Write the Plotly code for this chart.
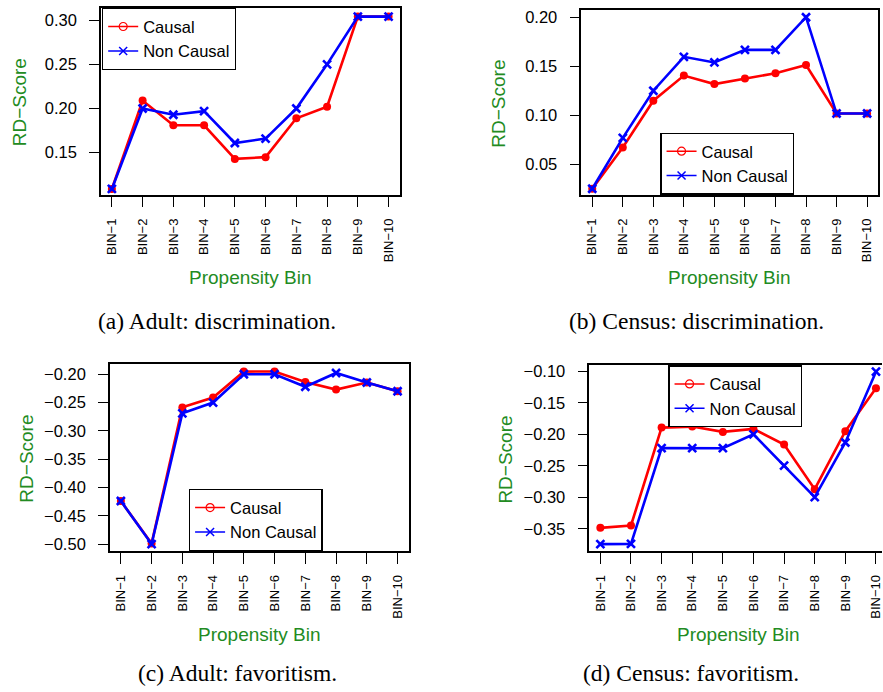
import plotly.graph_objects as go

W, H = 883, 692

bins = ["BIN\u22121", "BIN\u22122", "BIN\u22123", "BIN\u22124", "BIN\u22125",
        "BIN\u22126", "BIN\u22127", "BIN\u22128", "BIN\u22129", "BIN\u221210"]
bin_pos = [1, 2, 3, 4, 5, 6, 7, 8, 9, 10]

adult_disc_causal = [0.109, 0.209, 0.181, 0.181, 0.143, 0.145, 0.189, 0.202, 0.304, 0.304]
adult_disc_noncausal = [0.109, 0.200, 0.193, 0.197, 0.161, 0.166, 0.200, 0.250, 0.304, 0.304]
census_disc_causal = [0.0255, 0.0675, 0.115, 0.1406, 0.132, 0.1376, 0.143, 0.1513, 0.102, 0.102]
census_disc_noncausal = [0.0255, 0.0772, 0.1252, 0.1597, 0.154, 0.1668, 0.1668, 0.200, 0.102, 0.102]
adult_fav_causal = [-0.424, -0.499, -0.2585, -0.241, -0.1953, -0.195, -0.2135, -0.227, -0.2146, -0.230]
adult_fav_noncausal = [-0.424, -0.500, -0.269, -0.250, -0.200, -0.200, -0.222, -0.1977, -0.2146, -0.230]
census_fav_causal = [-0.3484, -0.3447, -0.1893, -0.1877, -0.1961, -0.1914, -0.2161, -0.287, -0.195, -0.1268]
census_fav_noncausal = [-0.3742, -0.374, -0.2218, -0.222, -0.222, -0.200, -0.2497, -0.2996, -0.2129, -0.1005]

ticks_a = [0.15, 0.20, 0.25, 0.30]
ticks_b = [0.05, 0.10, 0.15, 0.20]
ticks_c = [-0.50, -0.45, -0.40, -0.35, -0.30, -0.25, -0.20]
ticks_d = [-0.35, -0.30, -0.25, -0.20, -0.15, -0.10]

captions = ["(a) Adult: discrimination.", "(b) Census: discrimination.",
            "(c) Adult: favoritism.", "(d) Census: favoritism."]
series_names = ["Causal", "Non Causal"]

RED = "#FF0000"
BLUE = "#0000FF"
GREEN = "#228B22"
SANS = "Liberation Sans, Arial, sans-serif"
SERIF = "Liberation Serif, Times New Roman, serif"

def px(x):
    return x / W

def py(y):
    return 1 - y / H

# panel boxes in pixels: (left, top, right, bottom)
panels = [
    dict(box=(101, 5, 400, 193), xr=[0.643, 10.357], yr=[0.1026, 0.3138], ticks=ticks_a,
         c=adult_disc_causal, n=adult_disc_noncausal, ytitle_x=19,
         leg=(102, 5, "left", "top"), cap=(217, 320), mirror_y=True),
    dict(box=(582, 7, 879, 193), xr=[0.643, 10.357], yr=[0.0195, 0.2074], ticks=ticks_b,
         c=census_disc_causal, n=census_disc_noncausal, ytitle_x=499,
         leg=(661, 193, "left", "bottom"), cap=(697, 320), mirror_y=True),
    dict(box=(110, 364, 409, 552), xr=[0.643, 10.357], yr=[-0.5123, -0.1825], ticks=ticks_c,
         c=adult_fav_causal, n=adult_fav_noncausal, ytitle_x=27,
         leg=(189, 552, "left", "bottom"), cap=(238, 675), mirror_y=True),
    dict(box=(590, 365, 883, 552), xr=[0.64, 10.197], yr=[-0.3852, -0.0905], ticks=ticks_d,
         c=census_fav_causal, n=census_fav_noncausal, ytitle_x=506,
         leg=(669, 365, "left", "top"), cap=(692, 675), mirror_y=False),
]

fig = go.Figure()
annotations = []
layout = {}

for i, p in enumerate(panels):
    k = "" if i == 0 else str(i + 1)
    xa, ya = "x" + k, "y" + k
    legname = "legend" + k
    l, t, r, b = p["box"]
    fig.add_trace(go.Scatter(x=bin_pos, y=p["c"], mode="lines+markers", xaxis=xa, yaxis=ya,
                             line=dict(color=RED, width=2.6),
                             marker=dict(symbol="circle", size=8, color=RED),
                             showlegend=False, name=series_names[0], cliponaxis=False))
    fig.add_trace(go.Scatter(x=bin_pos, y=p["n"], mode="lines+markers", xaxis=xa, yaxis=ya,
                             line=dict(color=BLUE, width=2.6),
                             marker=dict(symbol="x-thin", size=8, color=BLUE,
                                         line=dict(color=BLUE, width=2.6)),
                             showlegend=False, name=series_names[1], cliponaxis=False))
    fig.add_trace(go.Scatter(x=[None], y=[None], mode="lines+markers", xaxis=xa, yaxis=ya,
                             line=dict(color=RED, width=1.5),
                             marker=dict(symbol="circle-open", size=8, color=RED,
                                         line=dict(width=1.2)),
                             name=series_names[0], legend=legname))
    fig.add_trace(go.Scatter(x=[None], y=[None], mode="lines+markers", xaxis=xa, yaxis=ya,
                             line=dict(color=BLUE, width=1.5),
                             marker=dict(symbol="x-thin", size=8, color=BLUE,
                                         line=dict(color=BLUE, width=1.5)),
                             name=series_names[1], legend=legname))

    layout["xaxis" + k] = dict(
        domain=[px(l), px(r)], range=p["xr"], anchor=ya,
        tickmode="array", tickvals=bin_pos, ticktext=bins, tickangle=-90,
        ticks="outside", ticklen=11, tickwidth=1.2, tickcolor="black",
        ticklabelstandoff=6, ticklabeloverflow="allow",
        showline=True, linecolor="black", linewidth=1.5, mirror=True,
        showgrid=False, zeroline=False,
        tickfont=dict(family=SANS, size=13, color="black"),
    )
    layout["yaxis" + k] = dict(
        domain=[py(b), py(t)], range=p["yr"], anchor=xa,
        tickmode="array", tickvals=p["ticks"], tickformat=".2f",
        ticks="outside", ticklen=10, tickwidth=1.2, tickcolor="black",
        ticklabelstandoff=9,
        showline=True, linecolor="black", linewidth=1.5, mirror=p["mirror_y"],
        showgrid=False, zeroline=False,
        tickfont=dict(family=SANS, size=16.5, color="black"),
    )
    lx, ly, lxa, lya = p["leg"]
    layout[legname] = dict(
        x=px(lx), y=py(ly), xanchor=lxa, yanchor=lya, xref="paper", yref="paper",
        bgcolor="white", bordercolor="black", borderwidth=1.3,
        font=dict(family=SANS, size=16.5, color="black"),
        itemwidth=30, tracegroupgap=0,
    )
    annotations.append(dict(text="Propensity Bin", x=px((l + (r if i < 3 else 888)) / 2),
                            y=py(b + 84), xref="paper", yref="paper",
                            xanchor="center", yanchor="middle", showarrow=False,
                            font=dict(family=SANS, size=19, color=GREEN)))
    annotations.append(dict(text="RD\u2212Score", x=px(p["ytitle_x"]), y=py((t + b) / 2 + 1),
                            xref="paper", yref="paper", textangle=-90,
                            xanchor="center", yanchor="middle", showarrow=False,
                            font=dict(family=SANS, size=19, color=GREEN)))
    cx, cy = p["cap"]
    annotations.append(dict(text=captions[i], x=px(cx), y=py(cy), xref="paper", yref="paper",
                            xanchor="center", yanchor="middle", showarrow=False,
                            font=dict(family=SERIF, size=23.5, color="black")))

fig.update_layout(
    width=W, height=H, autosize=False,
    margin=dict(l=0, r=0, t=0, b=0),
    paper_bgcolor="white", plot_bgcolor="white",
    annotations=annotations,
    **layout,
)

fig.write_html("out.html", config={"displayModeBar": False},
               post_script="document.body.style.margin='0px';")
